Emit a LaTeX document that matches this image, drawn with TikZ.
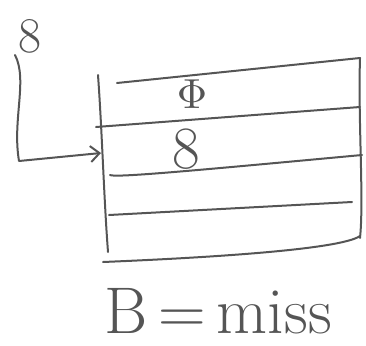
\documentclass[tikz,border=0pt]{standalone}
\usepackage{fontspec}
\usetikzlibrary{arrows.meta}
\definecolor{ink}{HTML}{555555}
\begin{document}
\begin{tikzpicture}[x=1pt,y=-1pt,
  ink/.style={draw=ink,line width=2pt,line cap=round,line join=round},
  txt/.style={text=ink,inner sep=0pt,font=\fontsize{50}{52}\selectfont},
  bigtxt/.style={text=ink,inner sep=0pt,font=\fontsize{60}{62}\selectfont},
  captxt/.style={text=ink,inner sep=0pt,font=\fontsize{66}{68}\selectfont}]
\useasboundingbox (0,0) rectangle (366,345);
% coordinates of box
\coordinate (lt) at (98,75);
\coordinate (lb) at (108,252);
\coordinate (rt) at (360,58);
\coordinate (rb) at (360,238);
% box sides
\draw[ink] (lt) .. controls (102,130) and (104,200) .. (lb);
\draw[ink] (rt) .. controls (358,120) and (364,200) .. (rb);
% horizontal lines
\coordinate (h1a) at (117,83);  \coordinate (h1b) at (360,58);
\coordinate (h2a) at (96,127);  \coordinate (h2b) at (360,107);
\coordinate (h3a) at (110,175); \coordinate (h3b) at (362,155);
\coordinate (h4a) at (109,215); \coordinate (h4b) at (352,202);
\coordinate (h5a) at (103,262); \coordinate (h5b) at (360,236);
\draw[ink] (h1a) -- (h1b);
\draw[ink] (h2a) -- (h2b);
\draw[ink] (h3a) .. controls (115,178) and (200,170) .. (h3b);
\draw[ink] (h4a) -- (h4b);
\draw[ink] (h5a) .. controls (200,258) and (340,250) .. (h5b);
% texts
\node[txt] (lbl) at (30,36) {8};
\node[text=ink,inner sep=0pt] (phi) at (192,94) {\scalebox{4.2}{$\Phi$}};
\node[bigtxt] (val) at (186,149) {8};
\node[captxt] (caption) at (218,311) {B{\,}={\,}miss};
% arrow
\coordinate (start) at (15,55);
\coordinate (bend) at (19,161);
\coordinate (tip) at (101,153);
\draw[ink,-{Straight Barb[length=9pt,width=16pt,line width=2pt]}] (start) .. controls (28,80) and (12,120) .. (bend) -- (tip);
\end{tikzpicture}
\end{document}
